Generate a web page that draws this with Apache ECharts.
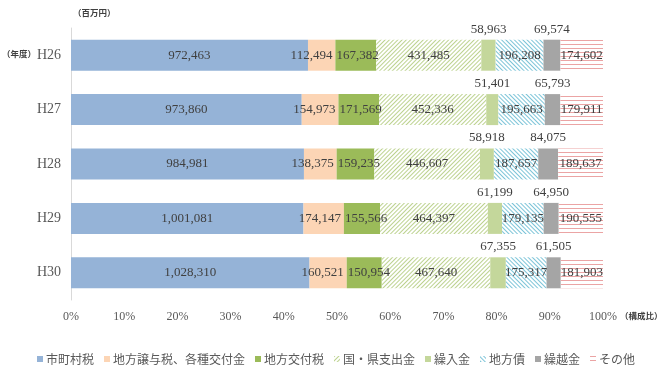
<!DOCTYPE html>
<html><head><meta charset="utf-8">
<script src="https://cdn.jsdelivr.net/npm/echarts@6/dist/echarts.min.js"></script>
<style>html,body{margin:0;padding:0;background:#fff}#c{width:672px;height:380px}</style>
</head><body><div id="c"></div>
<script>
// ---- data ----
const categories = ['H26', 'H27', 'H28', 'H29', 'H30'];
const seriesNames = ['市町村税', '地方譲与税、各種交付金', '地方交付税', '国・県支出金', '繰入金', '地方債', '繰越金', 'その他'];
const shichosonzei = [972463, 973860, 984981, 1001081, 1028310];
const joyozei = [112494, 154973, 138375, 174147, 160521];
const kofuzei = [167382, 171569, 159235, 155566, 150954];
const shishutsukin = [431485, 452336, 446607, 464397, 467640];
const kurirekin = [58963, 51401, 58918, 61199, 67355];
const chihosai = [196208, 195663, 187657, 179135, 175317];
const kurikoshikin = [69574, 65793, 84075, 64950, 61505];
const sonota = [174602, 179911, 189637, 190555, 181903];
const xTickValues = [0, 10, 20, 30, 40, 50, 60, 70, 80, 90, 100];

const valueArrays = [shichosonzei, joyozei, kofuzei, shishutsukin, kurirekin, chihosai, kurikoshikin, sonota];
const totals = categories.map((_, i) => valueArrays.reduce((s, a) => s + a[i], 0));

const serif = 'Liberation Serif';
const sans = 'Noto Sans CJK JP';

function hatch(color, rot, size, gap) {
  return { symbol: 'rect', symbolSize: size, dashArrayX: [1, 0], dashArrayY: [1, gap], rotation: rot, color: color };
}
const styles = [
  { color: '#95b3d7' },
  { color: '#fcd5b5' },
  { color: '#9bbb59' },
  { color: '#ffffff', decal: hatch('#bcd28f', -Math.PI / 4, 1, 2) },
  { color: '#c4d79b' },
  { color: '#ffffff', decal: hatch('#7cc4d8', Math.PI / 4, 1, 2) },
  { color: '#a5a5a5' },
  { color: '#ffffff', decal: hatch('#eba4a4', 0, 1, 3) }
];
const labelPos = ['inside', 'insideRight', 'insideLeft', 'inside', 'top', 'inside', 'top', 'inside'];
const labelDist = [5, 3, 1, 5, 4, 5, 4, 5];

const series = seriesNames.map((name, k) => ({
  name: name,
  type: 'bar',
  stack: 'total',
  barWidth: 31,
  itemStyle: styles[k],
  label: {
    show: true,
    position: labelPos[k],
    distance: labelDist[k],
    color: '#404040',
    fontFamily: serif,
    fontSize: 13,
    formatter: p => valueArrays[k][p.dataIndex].toLocaleString('en-US')
  },
  emphasis: { disabled: true },
  data: valueArrays[k].map((v, i) => v / totals[i] * 100)
}));

const chart = echarts.init(document.getElementById('c'), null, { renderer: 'canvas' });
chart.setOption({
  animation: false,
  backgroundColor: '#ffffff',
  aria: { enabled: false },
  grid: { left: 71, right: 69, top: 28, bottom: 80, containLabel: false },
  xAxis: {
    type: 'value', min: xTickValues[0], max: xTickValues[xTickValues.length - 1], interval: xTickValues[1] - xTickValues[0],
    axisLine: { show: false }, axisTick: { show: false }, splitLine: { show: false },
    axisLabel: { formatter: '{value}%', color: '#595959', fontFamily: serif, fontSize: 12, margin: 11 }
  },
  yAxis: {
    type: 'category', data: categories, inverse: true,
    axisLine: { show: true, lineStyle: { color: '#d9d9d9', width: 1 } },
    axisTick: { show: false },
    axisLabel: { color: '#595959', fontFamily: serif, fontSize: 14, margin: 10 }
  },
  legend: {
    data: seriesNames, bottom: 10, left: 'center',
    itemWidth: 6, itemHeight: 6, itemGap: 10, icon: 'rect',
    textStyle: { color: '#595959', fontFamily: sans, fontSize: 12, padding: [0, 0, 0, -2] }
  },
  graphic: [
    { type: 'text', left: 73, top: 9, style: { text: '（百万円）', font: 'bold 8.5px "Noto Sans CJK JP"', fill: '#404040' } },
    { type: 'text', left: 2, top: 50, style: { text: '（年度）', font: 'bold 8.5px "Noto Sans CJK JP"', fill: '#404040' } },
    { type: 'text', left: 620, top: 312, style: { text: '（構成比）', font: 'bold 8.5px "Noto Sans CJK JP"', fill: '#404040' } }
  ],
  series: series
});
</script>
</body></html>
